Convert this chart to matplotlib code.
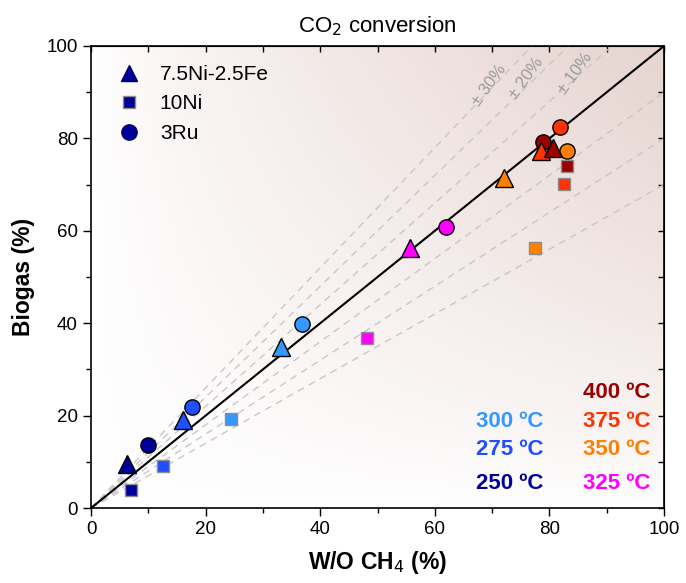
import numpy as np
import matplotlib
matplotlib.use("Agg")
from matplotlib import pyplot as plt
from matplotlib.colors import LinearSegmentedColormap
from matplotlib.lines import Line2D
from matplotlib.ticker import MultipleLocator

plt.rcParams['font.family'] = ['Liberation Sans', 'DejaVu Sans']

temps = ['250', '275', '300', '325', '350', '375', '400']
colors = ['#000099', '#1f4fff', '#3399ff', '#ff00ff', '#ff8000', '#ff3300', '#990000']

# 7.5Ni-2.5Fe (triangles)
nife_x = [6.3, 16.0, 33.1, 55.7, 72.0, 78.5, 80.6]
nife_y = [9.5, 19.0, 34.8, 56.2, 71.5, 77.3, 78.0]
# 10Ni (squares)
ni_x = [7.0, 12.6, 24.4, 48.1, 77.5, 82.6, 83.1]
ni_y = [3.9, 9.1, 19.2, 36.9, 56.2, 70.1, 74.0]
# 3Ru (circles)
ru_x = [10.0, 17.7, 36.8, 62.0, 83.0, 81.8, 78.8]
ru_y = [13.6, 21.8, 39.8, 60.8, 77.3, 82.4, 79.3]

deviations = [0.1, 0.2, 0.3]

fig = plt.figure(figsize=(6.86, 5.83), dpi=100)
ax = fig.add_axes([0.1327, 0.1286, 0.8353, 0.7925])

# background gradient
gx, gy = np.meshgrid(np.linspace(0, 1, 300), np.linspace(0, 1, 300))
grad = (gx * gy) ** 0.75
cmap = LinearSegmentedColormap.from_list('bg', ['#ffffff', '#e6d4d0'])
ax.imshow(grad, extent=[0, 100, 0, 100], origin='lower', cmap=cmap,
          aspect='auto', zorder=0)

# deviation lines
xs = np.array([0, 100])
for d in deviations:
    ax.plot(xs, xs * (1 + d), color='#c8c8c8', ls=(0, (5, 4)), lw=1, zorder=1)
    ax.plot(xs, xs * (1 - d), color='#c8c8c8', ls=(0, (5, 4)), lw=1, zorder=1)
ax.plot(xs, xs, color='black', lw=1.5, zorder=2)

for lab, x, y in [('± 30%', 69.5, 91.5), ('± 20%', 76.0, 93.0), ('± 10%', 84.5, 94.2)]:
    ax.text(x, y, lab, color='#9a9a9a', fontsize=12, rotation=54,
            ha='center', va='center', zorder=2)

for i in range(len(temps)):
    ax.plot(nife_x[i], nife_y[i], marker='^', ms=12.5, color=colors[i],
            mec='black', mew=1, ls='none', zorder=4)
    ax.plot(ni_x[i], ni_y[i], marker='s', ms=9, color=colors[i],
            mec='#8c8c8c', mew=1, ls='none', zorder=3)
    ax.plot(ru_x[i], ru_y[i], marker='o', ms=11, color=colors[i],
            mec='black', mew=1, ls='none', zorder=3)

handles = [
    Line2D([], [], marker='^', ms=12, color='#000099', mec='#000066', ls='none'),
    Line2D([], [], marker='s', ms=8, color='#000099', mec='#8c8c8c', ls='none'),
    Line2D([], [], marker='o', ms=11, color='#000099', mec='#000066', ls='none'),
]
ax.legend(handles, ['7.5Ni-2.5Fe', '10Ni', '3Ru'], loc='upper left',
          frameon=False, fontsize=15, labelspacing=0.5, handletextpad=0.5,
          borderaxespad=0.4, bbox_to_anchor=(0.0, 0.995))

# temperature labels
temp_pos = {'400': (97.6, 25.0), '375': (97.6, 18.7), '350': (97.6, 12.6),
            '325': (97.6, 5.4), '300': (78.9, 18.7), '275': (78.9, 12.6),
            '250': (78.9, 5.4)}
for t, c in zip(temps, colors):
    x, y = temp_pos[t]
    ax.text(x, y, t + ' ºC', color=c, fontsize=16, fontweight='bold',
            ha='right', va='center', zorder=5)

ax.set_xlim(0, 100)
ax.set_ylim(0, 100)
ax.xaxis.set_major_locator(MultipleLocator(20))
ax.xaxis.set_minor_locator(MultipleLocator(10))
ax.yaxis.set_major_locator(MultipleLocator(20))
ax.yaxis.set_minor_locator(MultipleLocator(10))
ax.tick_params(which='major', direction='out', length=6, width=1, labelsize=13.5)
ax.tick_params(which='minor', direction='out', length=3.5, width=1)

ax.set_xlabel('W/O CH$_4$ (%)', fontsize=16.5, fontweight='bold', labelpad=8)
ax.set_ylabel('Biogas (%)', fontsize=16.5, fontweight='bold', labelpad=8)
ax.set_title('CO$_2$ conversion', fontsize=16, pad=10)

# top / right ticks pointing inward
for side in ['top', 'right']:
    sec = ax.secondary_xaxis('top') if side == 'top' else ax.secondary_yaxis('right')
    axis = sec.xaxis if side == 'top' else sec.yaxis
    axis.set_major_locator(MultipleLocator(10))
    sec.tick_params(direction='in', length=4, width=1, labeltop=False,
                    labelright=False, labelbottom=False, labelleft=False)
    axis.set_ticklabels([])

for s in ax.spines.values():
    s.set_linewidth(1.2)

plt.savefig('out.png', dpi=100)
